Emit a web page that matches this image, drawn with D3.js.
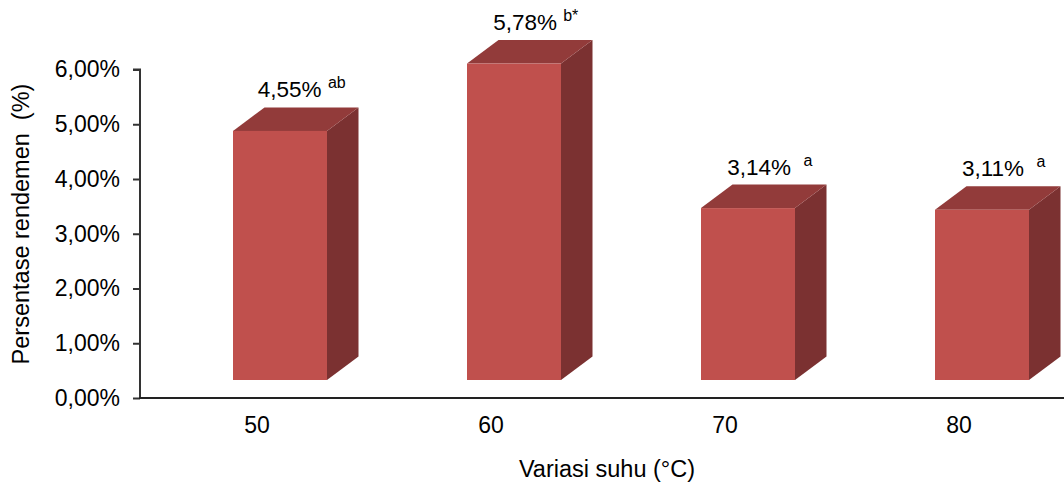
<!DOCTYPE html>
<html>
<head>
<meta charset="utf-8">
<script src="https://cdn.jsdelivr.net/npm/d3@7"></script>
<style>
  html, body { margin: 0; padding: 0; background: #fff; }
  svg { display: block; font-family: "Liberation Sans", Arial, sans-serif; }
  text { white-space: pre; }
</style>
</head>
<body>
<svg id="chart" width="1064" height="485"></svg>
<script>
// Yield (%) by drying temperature
const categories = ["50", "60", "70", "80"];
const values = [4.55, 5.78, 3.14, 3.11];
const notations = ["ab", "b*", "a", "a"];
const notationGap = [" ", " ", "  ", "  "];
const yTicks = [0, 1, 2, 3, 4, 5, 6];

const W = 1064, H = 485;
const plotLeft = 140, plotRight = 1076, plotTop = 69.5, plotBottom = 398;

const svg = d3.select("#chart");

const x = d3.scaleBand().domain(categories).range([plotLeft, plotRight]).padding(0);
const y = d3.scaleLinear().domain([0, 6]).range([plotBottom, plotTop]);

// 3D column geometry
const floorShift = 18;      // front face sits in front of the back wall
const depthX = 31.5, depthY = -23.5;
const frontOffset = -24, frontWidth = 94;

const colFront = "#c0504d", colTop = "#923b3a", colSide = "#7b3131";

const fmtPct = v => d3.format(".2f")(v).replace(".", ",") + "%";

const bars = svg.append("g").selectAll("g.bar")
  .data(categories.map((c, i) => ({ c, v: values[i], n: notations[i], g: notationGap[i] })))
  .join("g").attr("class", "bar");

bars.each(function (d) {
  const g = d3.select(this);
  const cx = x(d.c) + x.bandwidth() / 2;
  const x0 = cx + frontOffset, x1 = x0 + frontWidth;
  const yb = y(0) - floorShift, yt = y(d.v) - floorShift;
  // side face
  g.append("path")
    .attr("d", `M${x1},${yt} L${x1 + depthX},${yt + depthY} L${x1 + depthX},${yb + depthY} L${x1},${yb} Z`)
    .attr("fill", colSide);
  // top face
  g.append("path")
    .attr("d", `M${x0},${yt} L${x0 + depthX},${yt + depthY} L${x1 + depthX},${yt + depthY} L${x1},${yt} Z`)
    .attr("fill", colTop);
  // front face
  g.append("rect")
    .attr("x", x0).attr("y", yt)
    .attr("width", frontWidth).attr("height", yb - yt)
    .attr("fill", colFront);

  // value label with significance notation
  const t = g.append("text")
    .attr("x", x0 + (frontWidth + depthX) / 2 + 6)
    .attr("y", yt + depthY - 10)
    .attr("text-anchor", "middle")
    .attr("font-size", 22.5)
    .attr("fill", "#000");
  t.append("tspan").text(fmtPct(d.v) + d.g);
  t.append("tspan").attr("font-size", 16).attr("dy", -9).text(d.n);
});

// y axis
const yAxis = d3.axisLeft(y)
  .tickValues(yTicks)
  .tickSize(7)
  .tickPadding(13)
  .tickFormat(fmtPct);

const gy = svg.append("g").attr("transform", `translate(${plotLeft},0)`).call(yAxis);
gy.select(".domain").attr("stroke", "#333").attr("stroke-width", 2)
  .attr("d", `M-7,${plotTop}H0V${plotBottom}`);
gy.selectAll(".tick line").attr("stroke", "#333").attr("stroke-width", 2);
gy.selectAll(".tick text")
  .attr("font-size", 23)
  .attr("fill", "#000")
  .attr("font-family", "'Liberation Sans', Arial, sans-serif");

// x axis
const xAxis = d3.axisBottom(x).tickSize(0).tickPadding(19);
const gx = svg.append("g").attr("transform", `translate(0,${plotBottom})`).call(xAxis);
gx.select(".domain").attr("stroke", "#222").attr("stroke-width", 2)
  .attr("d", `M${plotLeft - 1},0H${W}`);
gx.selectAll(".tick text")
  .attr("font-size", 23)
  .attr("fill", "#000")
  .attr("font-family", "'Liberation Sans', Arial, sans-serif");

// axis titles
svg.append("text")
  .attr("x", (plotLeft + plotRight) / 2 - 1)
  .attr("y", 477)
  .attr("text-anchor", "middle")
  .attr("font-size", 23.5)
  .text("Variasi suhu (°C)");

svg.append("text")
  .attr("transform", `translate(29,${224}) rotate(-90)`)
  .attr("text-anchor", "middle")
  .attr("font-size", 23.5)
  .text("Persentase rendemen  (%)");
</script>
</body>
</html>
